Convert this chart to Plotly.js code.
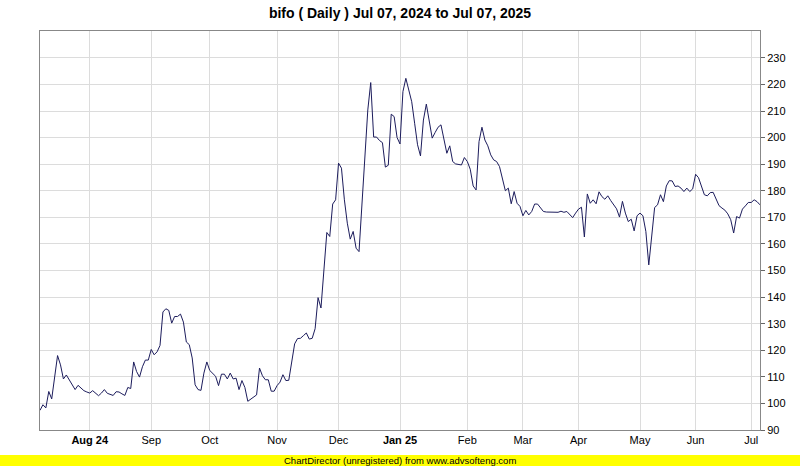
<!DOCTYPE html>
<html>
<head>
<meta charset="utf-8">
<script src="https://cdn.plot.ly/plotly-3.0.1.min.js"></script>
<style>
  html, body { margin: 0; padding: 0; background: #ffffff; }
  #chart { width: 800px; height: 466px; }
</style>
</head>
<body>
<div id="chart"></div>
<script>
// Daily closing values, one array per calendar month (trading days)
const jul24 = [97.4, 99.5, 98.3, 104.5, 101.7, 109.5, 118, 114.5, 109.2, 110.7, 108.9, 106.8, 105.2, 106.8, 105.6, 104.8, 104.3];
const aug24 = [103.9, 104.8, 103.9, 102.9, 103.9, 105.2, 103.8, 103.5, 103, 104.4, 104.3, 103.6, 103, 106, 105.6, 115.6, 112, 109.9, 113.8, 116.3, 116.3];
const sep24 = [120.3, 118.3, 119.4, 121.8, 134.4, 135.6, 135, 130.2, 132.7, 132.7, 133.6, 130.6, 123.1, 122.1, 117.1, 107, 105.2, 104.9, 111.4, 115.6];
const oct24 = [112.4, 111.4, 110.2, 106.7, 111, 111, 109.2, 111.4, 109.2, 109.5, 105.2, 108.6, 106, 100.8, 101.6, 102.6, 103.2, 113.3, 110.4, 108.9, 108.9, 104.6, 104.6];
const nov24 = [106.7, 108, 110.8, 108.6, 108.7, 115.5, 122.4, 124.4, 124.5, 125.5, 126.5, 124.2, 124.5, 128.1, 139.8, 135.9, 150.3, 164.3, 162.8, 175, 176.6];
const dec24 = [190.4, 188.5, 176.6, 167.8, 161.8, 164.7, 158.4, 157.1, 174.1, 189.1, 210.4, 220.7, 200.2, 200.2, 198.9, 198.1, 188.9, 189.6, 208.8, 207.9, 200.0];
const jan25 = [197.6, 217.3, 222.3, 217.7, 213.5, 205.4, 197.3, 193.1, 206.6, 212.6, 206.6, 199.8, 201.9, 203.9, 204.8, 199.1, 194.1, 196.9, 191, 190.1, 190, 189.7, 192.5];
const feb25 = [191, 188.1, 181.8, 180.3, 198.5, 203.9, 199.1, 196.9, 193.5, 191.6, 191, 189.1, 184.7, 180, 181, 175.1, 179.7, 175.3, 174.1];
const mar25 = [170.6, 172.6, 170.9, 172.2, 175, 175, 173.8, 172.2, 172, 172, 172, 171.9, 171.9, 172.3, 171.9, 172.2, 170.9, 169.9, 171.6];
const apr25 = [173.1, 173.8, 162.6, 178.8, 175.3, 176.6, 175.1, 179.6, 177.8, 176.8, 178.1, 176.3, 174.7, 173.2, 170.1, 176, 171.6, 168.4, 169.3, 164.9, 170.6];
const may25 = [171.6, 170.6, 164.7, 152.1, 162.8, 173.7, 174.7, 178.5, 175.9, 181.8, 183.8, 183.7, 181.6, 181.8, 181, 179.7, 181, 179.7, 180.7];
const jun25 = [186.2, 184.9, 181.6, 178.5, 178.1, 179.3, 179.4, 176.8, 174.4, 173.5, 172.7, 171.3, 169.1, 164.1, 170.3, 169.7, 173.1, 174.3, 175.6];
const jul25 = [175.6, 176.6, 175.9, 174.7];

// Month tick labels (first trading day of each month after the first)
const monthLabels = ["Aug 24", "Sep", "Oct", "Nov", "Dec", "Jan 25", "Feb", "Mar", "Apr", "May", "Jun", "Jul"];
const boldLabels = ["Aug 24", "Jan 25"];
const yTicks = [90, 100, 110, 120, 130, 140, 150, 160, 170, 180, 190, 200, 210, 220, 230];

const months = [jul24, aug24, sep24, oct24, nov24, dec24, jan25, feb25, mar25, apr25, may25, jun25, jul25];
const closes = [].concat(...months);
const idx = closes.map((_, i) => i);

const tickvals = [];
let acc = 0;
for (let m = 0; m < months.length - 1; m++) {
  acc += months[m].length;
  tickvals.push(acc);
}
const ticktext = monthLabels.map(l => boldLabels.includes(l) ? "<b>" + l + "</b>" : l);

const FONT = "Liberation Sans, Arial, sans-serif";

const trace = {
  x: idx,
  y: closes,
  type: "scatter",
  mode: "lines",
  line: { color: "#1c1c5c", width: 1 },
  hoverinfo: "skip"
};

const layout = {
  width: 800,
  height: 466,
  margin: { l: 40, r: 40, t: 31, b: 36, pad: 0 },
  paper_bgcolor: "#ffffff",
  plot_bgcolor: "#ffffff",
  showlegend: false,
  title: {
    text: "<b>bifo ( Daily ) Jul 07, 2024 to Jul 07, 2025</b>",
    font: { family: FONT, size: 14, color: "#000000" },
    x: 0.5, xanchor: "center", xref: "paper",
    y: 1 - 13 / 466, yanchor: "middle", yref: "container"
  },
  xaxis: {
    range: [0, closes.length - 1],
    tickmode: "array",
    tickvals: tickvals,
    ticktext: ticktext,
    showgrid: true,
    gridcolor: "#dcdcdc",
    gridwidth: 1,
    zeroline: false,
    showline: true,
    linecolor: "#888888",
    linewidth: 1,
    mirror: true,
    ticks: "",
    tickfont: { family: FONT, size: 11, color: "#000000" },
    fixedrange: true
  },
  yaxis: {
    side: "right",
    range: [90, 240.1],
    tickmode: "array",
    tickvals: yTicks,
    ticktext: yTicks.map(String),
    showgrid: true,
    gridcolor: "#dcdcdc",
    gridwidth: 1,
    zeroline: false,
    showline: true,
    linecolor: "#888888",
    linewidth: 1,
    mirror: true,
    ticks: "outside",
    ticklen: 4,
    tickcolor: "#666666",
    tickfont: { family: FONT, size: 11, color: "#000000" },
    fixedrange: true
  },
  shapes: [{
    type: "rect",
    xref: "paper", yref: "paper",
    x0: -40 / 720, x1: 760 / 720,
    y0: -36 / 399, y1: -25 / 399,
    fillcolor: "#ffff00",
    line: { width: 0 },
    layer: "above"
  }],
  annotations: [{
    text: "ChartDirector (unregistered) from www.advsofteng.com",
    xref: "paper", yref: "paper",
    x: 0.5, xanchor: "center",
    y: -30.5 / 399, yanchor: "middle",
    showarrow: false,
    font: { family: FONT, size: 9.5, color: "#000000" }
  }]
};

Plotly.newPlot("chart", [trace], layout, { displayModeBar: false, staticPlot: true });
</script>
</body>
</html>
